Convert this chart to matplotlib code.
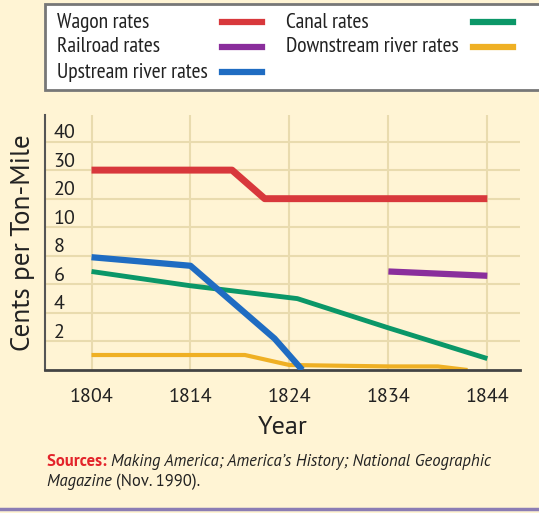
import numpy as np
import matplotlib
matplotlib.use("Agg")
import matplotlib.pyplot as plt
from matplotlib.lines import Line2D
from matplotlib.patches import Rectangle
from matplotlib import font_manager

# data (cents per ton-mile)
wagon_years = [1804, 1818.2, 1821.5, 1844]
wagon_rates = [30, 30, 20, 20]
railroad_years = [1834, 1844]
railroad_rates = [6.9, 6.6]
upstream_years = [1804, 1814, 1822.5, 1825.3]
upstream_rates = [7.9, 7.3, 2.2, 0]
canal_years = [1804, 1814, 1824.8, 1834, 1844]
canal_rates = [6.9, 5.9, 5.0, 2.95, 0.8]
downstream_years = [1804, 1819.5, 1824, 1834, 1839, 1842]
downstream_rates = [1.05, 1.05, 0.35, 0.25, 0.25, 0.0]

year_ticks = [1804, 1814, 1824, 1834, 1844]
rate_ticks = [0, 2, 4, 6, 8, 10, 20, 30, 40]

# pick a Myriad-like font if one is around
installed = {f.name for f in font_manager.fontManager.ttflist}
font = 'PT Sans' if 'PT Sans' in installed else 'Liberation Sans'
plt.rcParams['font.family'] = [font, 'DejaVu Sans']
if 'PT Sans Narrow' in installed:
    leg_font, leg_size = 'PT Sans Narrow', 15.5
else:
    leg_font, leg_size = font, 12.8

# broken scale: 0-10 in steps of 2, then 10-40 in steps of 10, same spacing
scale_vals = rate_ticks + [50]
scale_pos = list(range(len(scale_vals)))


def fwd(v):
    return np.interp(v, scale_vals, scale_pos)


def inv(p):
    return np.interp(p, scale_pos, scale_vals)


bg = '#FFF4D4'
grid_c = '#E9DBAE'
ink = '#222222'
W, H = 539, 513

fig = plt.figure(figsize=(W / 100, H / 100), dpi=100, facecolor=bg)
ax = fig.add_axes([45 / W, 1 - 370 / H, 475 / W, 255 / H], facecolor=bg)
ax.set_yscale('function', functions=(fwd, inv))

series = [
    ('Wagon rates', wagon_years, wagon_rates, '#D8383C', 5, 3),
    ('Railroad rates', railroad_years, railroad_rates, '#8A2E9C', 4.5, 3),
    ('Upstream river rates', upstream_years, upstream_rates, '#1F6CC2', 4.5, 4),
    ('Canal rates', canal_years, canal_rates, '#0B9768', 3.5, 3),
    ('Downstream river rates', downstream_years, downstream_rates, '#EFB024', 3, 2),
]
for name, xs, ys, c, lw, z in series:
    ax.plot(xs, ys, color=c, lw=lw, solid_capstyle='butt', label=name, zorder=z)

ax.set_xlim(1799.3, 1847.3)
ax.set_ylim(0, 49.3)
ax.set_xticks(year_ticks)
ax.set_yticks(rate_ticks[1:])
ax.tick_params(axis='x', length=0, pad=13, labelsize=14.5, colors=ink)
ax.tick_params(axis='y', length=0, labelleft=False)
ax.grid(True, color=grid_c, lw=1.5, zorder=0)

for v in rate_ticks[1:]:
    ax.annotate(str(v), xy=(0, v), xycoords=('axes fraction', 'data'),
                xytext=(6, 2.5), textcoords='offset points',
                ha='left', va='baseline', fontsize=14.5, color=ink)

for s in ['top', 'right']:
    ax.spines[s].set_visible(False)
ax.spines['left'].set_color('#555555')
ax.spines['left'].set_linewidth(1.5)
ax.spines['bottom'].set_color('#444444')
ax.spines['bottom'].set_linewidth(2)

ax.set_xlabel('Year', fontsize=19, color=ink, labelpad=7)
ax.set_ylabel('Cents per Ton-Mile', fontsize=19.5, color=ink)
ax.yaxis.set_label_coords(-0.021, 0.5)

# legend box drawn by hand: text left, swatch right
fig.patches.append(Rectangle((45 / W, 1 - 90 / H), 500 / W, 86 / H, transform=fig.transFigure,
                             facecolor='white', edgecolor='#777777', lw=2, zorder=5))
slots = [(57, 222, 22), (57, 222, 47), (57, 222, 72), (286, 473, 22), (286, 473, 47)]
for (name, xs, ys, c, lw, z), (tx, hx, ty) in zip(series, slots):
    fig.text(tx / W, 1 - ty / H, name, fontsize=leg_size, family=[leg_font, 'DejaVu Sans'],
             color=ink, va='center', ha='left', zorder=6)
    fig.add_artist(Line2D([hx / W, (hx + 40) / W], [1 - ty / H, 1 - ty / H], color=c, lw=4.5,
                          transform=fig.transFigure, zorder=6))

# sources note, pieces placed one after the other
fig.canvas.draw()
r = fig.canvas.get_renderer()
x0 = 47
t1 = fig.text(x0 / W, 1 - 462 / H, 'Sources: ', color='#E3242B', fontsize=12, fontweight='bold', va='center')
w1 = t1.get_window_extent(r).width
fig.text((x0 + w1) / W, 1 - 462 / H, 'Making America; America\u2019s History; National Geographic',
         color=ink, fontsize=12, style='italic', va='center')
t3 = fig.text(x0 / W, 1 - 482 / H, 'Magazine ', color=ink, fontsize=12, style='italic', va='center')
w3 = t3.get_window_extent(r).width
fig.text((x0 + w3) / W, 1 - 482 / H, '(Nov. 1990).', color=ink, fontsize=12, va='center')

fig.add_artist(Line2D([0, 1], [0.008, 0.008], color='#8C7DB4', lw=2.5, transform=fig.transFigure))

fig.savefig('out.png', dpi=100, facecolor=bg)
